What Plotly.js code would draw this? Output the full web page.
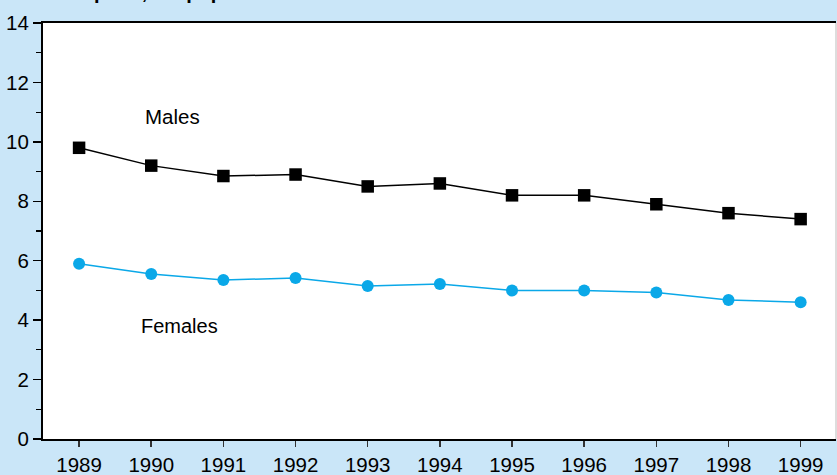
<!DOCTYPE html>
<html>
<head>
<meta charset="utf-8">
<script src="https://cdn.plot.ly/plotly-3.0.1.min.js"></script>
<style>html,body{margin:0;padding:0;background:#cae6f8;}#chart{width:837px;height:475px;}</style>
</head>
<body>
<div id="chart"></div>
<script>
const years = [1989, 1990, 1991, 1992, 1993, 1994, 1995, 1996, 1997, 1998, 1999];
const males = [9.8, 9.2, 8.85, 8.9, 8.5, 8.6, 8.2, 8.2, 7.9, 7.6, 7.4];
const females = [5.9, 5.55, 5.35, 5.42, 5.15, 5.22, 5.0, 5.0, 4.93, 4.68, 4.6];
const yTicks = [0, 2, 4, 6, 8, 10, 12, 14];
const titleText = "Rate per 1,000 population";

const font = "Liberation Sans, Arial, sans-serif";

const traces = [
  {
    x: years, y: males, type: "scatter", mode: "lines+markers", name: "Males",
    line: {color: "#000000", width: 1.5},
    marker: {symbol: "square", size: 12.5, color: "#000000"}
  },
  {
    x: years, y: females, type: "scatter", mode: "lines+markers", name: "Females",
    line: {color: "#0aa8e8", width: 1.5},
    marker: {symbol: "circle", size: 12, color: "#0aa8e8"}
  }
];

const layout = {
  width: 837, height: 475,
  margin: {l: 43, r: 1, t: 23, b: 36, pad: 0},
  paper_bgcolor: "#cae6f8",
  plot_bgcolor: "#ffffff",
  showlegend: false,
  font: {family: font, size: 20, color: "#000000"},
  xaxis: {
    range: [1988.5, 1999.49],
    tickvals: years,
    ticktext: years.map(String),
    ticks: "outside", ticklen: 6, tickwidth: 1.5, tickcolor: "#333333",
    showgrid: false, zeroline: false,
    showline: true, linecolor: "#000000", linewidth: 2, mirror: true,
    tickfont: {family: font, size: 20.5, color: "#000000"}
  },
  yaxis: {
    range: [0, 14],
    tickvals: yTicks,
    ticks: "outside", ticklen: 8, tickwidth: 1.5, tickcolor: "#000000",
    minor: {dtick: 1, tick0: 0, ticks: "outside", ticklen: 5, tickwidth: 1.2, tickcolor: "#000000", showgrid: false},
    showgrid: false, zeroline: false,
    showline: true, linecolor: "#000000", linewidth: 2,
    tickfont: {family: font, size: 20.5, color: "#000000"}
  },
  shapes: [
    {type: "line", xref: "paper", yref: "paper", x0: 1, x1: 1, y0: 0, y1: 1,
     line: {color: "#dddddd", width: 2}}
  ],
  annotations: [
    {text: "Males", xref: "x", yref: "y", x: 1990.29, y: 10.84, showarrow: false,
     font: {family: font, size: 20.5, color: "#000000"}},
    {text: "Females", xref: "x", yref: "y", x: 1990.39, y: 3.8, showarrow: false,
     font: {family: font, size: 20, color: "#000000"}},
    {text: "<b>" + titleText + "</b>", xref: "paper", yref: "paper", x: 0, xanchor: "left",
     y: 1.043, yanchor: "bottom", showarrow: false,
     font: {family: font, size: 20, color: "#000000"}}
  ]
};

Plotly.newPlot("chart", traces, layout, {displayModeBar: false, staticPlot: true});
</script>
</body>
</html>
